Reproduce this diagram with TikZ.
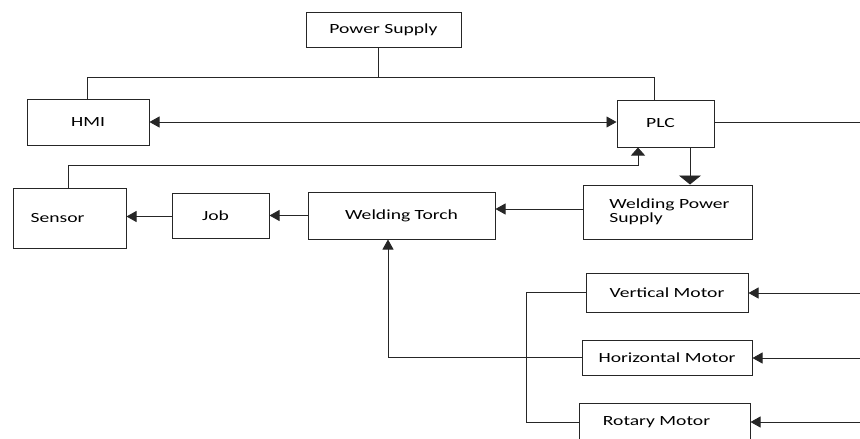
\documentclass[tikz,border=0pt]{standalone}
\usepackage{fontspec}
\setmainfont{Carlito}[FakeStretch=1.4]
\usetikzlibrary{arrows.meta,calc}
\begin{document}
\begin{tikzpicture}[x=1pt,y=-1pt, line width=0.9pt, draw=black!85,
  box/.style={draw, rectangle, line width=1pt, inner sep=0pt, font=\fontsize{14}{16}\selectfont},
  tri/.style={-{Triangle[length=10pt,width=11pt]}},
  tritri/.style={{Triangle[length=10pt,width=11pt]}-{Triangle[length=10pt,width=11pt]}},
  bigtri/.style={-{Triangle[length=9pt,width=22pt]}},
  midtri/.style={-{Triangle[length=8pt,width=14pt]}}]
\useasboundingbox (0,0) rectangle (860,439);

\node[box, minimum width=155pt, minimum height=35pt] (ps) at (383.5,29.5) {Power Supply};
\node[box, minimum width=122pt, minimum height=46pt] (hmi) at (88,122) {HMI};
\node[box, minimum width=97pt, minimum height=47pt] (plc) at (665.5,123.5) {\hspace*{-10pt}PLC};
\node[box, minimum width=113pt, minimum height=60pt] (sensor) at (69.5,218) {\hspace*{-24pt}Sensor};
\node[box, minimum width=97pt, minimum height=45pt] (job) at (220.5,215.5) {\hspace*{-10pt}Job};
\node[box, minimum width=187pt, minimum height=47pt] (wt) at (401.5,215.5) {Welding Torch};
\node[box, minimum width=169pt, minimum height=54pt, align=left, text depth=2pt] (wps) at (667.5,212) {\hspace*{4pt}Welding Power\\[-2pt]\hspace*{4pt}Supply};
\node[box, minimum width=162pt, minimum height=39pt] (vm) at (667,292.5) {Vertical Motor};
\node[box, minimum width=170pt, minimum height=35pt] (hm) at (667,357.5) {Horizontal Motor};
\node[box, minimum width=171pt, minimum height=38pt] (rm) at (664.5,422) {\hspace*{-16pt}Rotary Motor};

\coordinate (jps) at (378,77);
\coordinate (sp) at (638,165);
\coordinate (bus) at (526,0);
\coordinate (plcout) at (860,122);
\coordinate (vmin) at (860,293);
\coordinate (hmin) at (860,358);
\coordinate (rmin) at (860,422);

% power distribution
\draw (ps.south -| jps) -- (jps);
\draw ([xshift=-1pt]hmi.north) |- ([xshift=-11.5pt]plc.north |- jps) -- ([xshift=-11.5pt]plc.north);

% HMI <-> PLC
\draw[tritri] (hmi.east) -- (hmi.east -| plc.west);
\draw (plc.east |- plcout) -- (plcout);

% sensor -> PLC
\draw[midtri] ([xshift=-1.5pt]sensor.north) |- (sp) -- (sp |- plc.south);

% PLC -> welding power supply
\draw[bigtri] ([xshift=24.5pt]plc.south) -- ([xshift=24.5pt]plc.south |- wps.north);

% chain
\draw[tri] ([yshift=3pt]wps.west) -- ([yshift=3pt]wps.west -| wt.east);
\draw[tri] (wt.west) -- (job.east);
\draw[tri] ([yshift=-1pt]job.west) -- ([yshift=-1pt]job.west -| sensor.east);

% motors
\draw[tri] (hm.west) -| ([xshift=-13.5pt]wt.south);
\draw (vm.west) -| (bus |- rm.west) -- (rm.west);
\draw[tri] (vmin) -- (vmin -| vm.east);
\draw[tri] (hmin) -- (hmin -| hm.east);
\draw[tri] (rmin) -- (rmin -| rm.east);
\end{tikzpicture}
\end{document}
